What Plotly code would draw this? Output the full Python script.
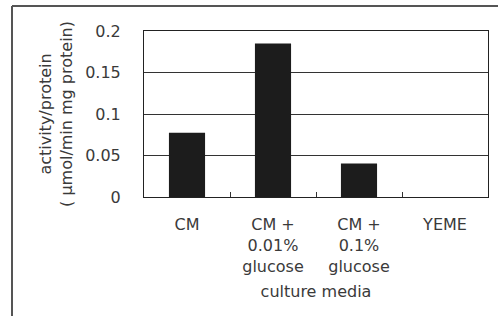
import plotly.graph_objects as go

categories = ["CM", "CM +<br>0.01%<br>glucose", "CM +<br>0.1%<br>glucose", "YEME"]
activity = [0.0775, 0.185, 0.0405, 0.0]
y_ticks = [0, 0.05, 0.1, 0.15, 0.2]
y_tick_labels = ["0", "0.05", "0.1", "0.15", "0.2"]

FONT = "DejaVu Sans"
TXT = "#3a3a3a"

fig = go.Figure()
fig.add_trace(go.Bar(
    x=categories, y=activity,
    marker=dict(color="#1c1c1c", line=dict(width=0)),
    width=0.42,
))

W, H = 498, 316
L, R, T, B = 144, 10, 31, 119
pw, ph = W - L - R, H - T - B

def px(x):
    return (x - L) / pw

def py(y):
    return (H - B - y) / ph

fig.update_layout(
    width=W, height=H,
    margin=dict(l=L, r=R, t=T, b=B, pad=0, autoexpand=False),
    paper_bgcolor="white", plot_bgcolor="white",
    showlegend=False,
    font=dict(family=FONT, size=16, color=TXT),
    xaxis=dict(
        type="category", automargin=False,
        showline=True, linecolor="#222", linewidth=1, mirror=True,
        ticks="inside", ticklen=5, tickcolor="#333", tickwidth=1,
        tickson="boundaries",
        showgrid=False,
        tickfont=dict(family=FONT, size=16, color=TXT),
        ticklabelstandoff=13,
        title=dict(text="culture media", font=dict(family=FONT, size=16, color=TXT), standoff=11),
    ),
    yaxis=dict(
        range=[0, 0.2], automargin=False,
        tickvals=y_ticks, ticktext=y_tick_labels,
        showline=True, linecolor="#222", linewidth=1, mirror=True,
        ticks="", showgrid=True, gridcolor="#333", gridwidth=1,
        zeroline=False,
        tickfont=dict(family=FONT, size=16, color=TXT),
        ticklabelstandoff=19,
        title=dict(text="activity/protein<br>( μmol/min mg protein)",
                   font=dict(family=FONT, size=16, color=TXT), standoff=8),
    ),
    shapes=[
        dict(type="line", xref="paper", yref="paper",
             x0=px(12), x1=px(12), y0=py(316), y1=py(6),
             line=dict(color="#555", width=2)),
        dict(type="line", xref="paper", yref="paper",
             x0=px(12), x1=px(500), y0=py(6), y1=py(6),
             line=dict(color="#555", width=2)),
    ],
)

fig.write_html(
    "out.html",
    config={"displayModeBar": False, "staticPlot": True},
    post_script="document.body.style.margin='0';document.body.style.overflow='hidden';",
)
